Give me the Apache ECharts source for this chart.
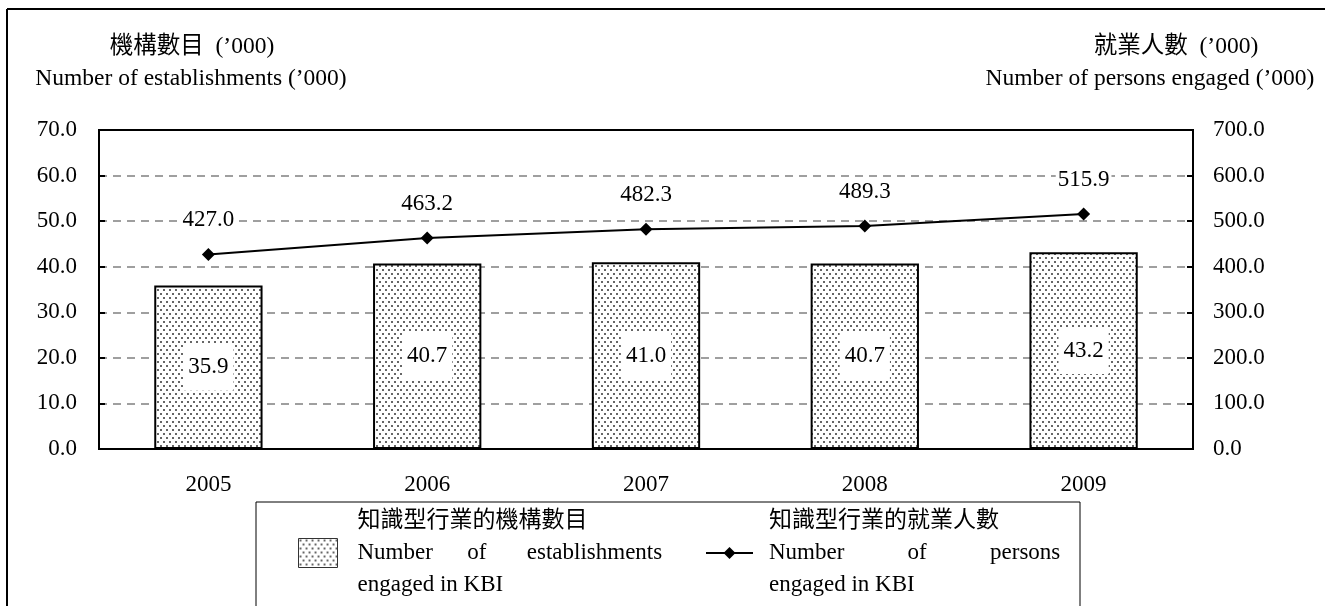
<!DOCTYPE html>
<html>
<head>
<meta charset="utf-8">
<script src="https://cdn.jsdelivr.net/npm/echarts@6/dist/echarts.min.js"></script>
<style>
  html, body { margin: 0; padding: 0; background: #fff; }
  #main { width: 1325px; height: 606px; }
</style>
</head>
<body>
<div id="main"></div>
<script>
var years = ['2005', '2006', '2007', '2008', '2009'];
// 知識型行業的機構數目 ('000)
var establishments = [35.9, 40.7, 41.0, 40.7, 43.2];
// 知識型行業的就業人數 ('000)
var persons = [427.0, 463.2, 482.3, 489.3, 515.9];

var leftTicks = { min: 0, max: 70, interval: 10 };
var rightTicks = { min: 0, max: 700, interval: 100 };

var FONT = '"Liberation Serif", "Times New Roman", "Noto Sans CJK TC", serif';

// dotted fill like the printed chart
function dotPattern() {
    var c = document.createElement('canvas');
    c.width = 6;
    c.height = 8;
    var ctx = c.getContext('2d');
    ctx.fillStyle = '#fff';
    ctx.fillRect(0, 0, 6, 8);
    ctx.fillStyle = '#666';
    ctx.fillRect(1, 1, 2, 2);
    ctx.fillRect(4, 5, 2, 2);
    return c;
}
var dots = { image: dotPattern(), repeat: 'repeat' };

function sp(n) { return new Array(n + 1).join(' '); }

var legendText = {
    fontFamily: FONT,
    fontSize: 23,
    color: '#000',
    lineHeight: 32,
    width: 305
};

var myChart = echarts.init(document.getElementById('main'));

var option = {
    backgroundColor: '#fff',
    animation: false,
    textStyle: { fontFamily: FONT },
    graphic: [
        { type: 'line', shape: { x1: 7, y1: 9, x2: 1325, y2: 9 }, style: { stroke: '#000', lineWidth: 2 } },
        { type: 'line', shape: { x1: 7, y1: 9, x2: 7, y2: 606 }, style: { stroke: '#000', lineWidth: 2 } },
        { type: 'rect', shape: { x: 256, y: 502, width: 824, height: 110 }, style: { fill: 'none', stroke: '#000', lineWidth: 1 } },
        { type: 'text', x: 192, y: 47, style: { text: '機構數目  (\u2019000)', font: '23.5px ' + FONT, fill: '#000', align: 'center', verticalAlign: 'middle' } },
        { type: 'text', x: 191, y: 79, style: { text: 'Number of establishments (\u2019000)', font: '23.5px ' + FONT, fill: '#000', align: 'center', verticalAlign: 'middle' } },
        { type: 'text', x: 1176, y: 47, style: { text: '就業人數  (\u2019000)', font: '23.5px ' + FONT, fill: '#000', align: 'center', verticalAlign: 'middle' } },
        { type: 'text', x: 1150, y: 79, style: { text: 'Number of persons engaged (\u2019000)', font: '23.5px ' + FONT, fill: '#000', align: 'center', verticalAlign: 'middle' } }
    ],
    legend: [
        {
            left: 293,
            top: 500,
            itemWidth: 39,
            itemHeight: 29,
            textStyle: Object.assign({ padding: [0, 0, 0, 15] }, legendText),
            formatter: function () {
                return '知識型行業的機構數目\nNumber' + sp(6) + 'of' + sp(7) + 'establishments\nengaged in KBI';
            },
            data: [{ name: 'est', icon: 'rect', itemStyle: { borderWidth: 1, borderColor: '#333' } }]
        },
        {
            left: 700,
            top: 500,
            itemWidth: 47,
            itemHeight: 15,
            textStyle: Object.assign({ padding: [0, 0, 0, 11] }, legendText),
            formatter: function () {
                return '知識型行業的就業人數\nNumber' + sp(11) + 'of' + sp(11) + 'persons\nengaged in KBI';
            },
            data: ['per']
        }
    ],
    grid: {
        left: 99,
        right: 132,
        top: 130,
        bottom: 157,
        show: true,
        borderColor: '#000',
        borderWidth: 2
    },
    xAxis: {
        type: 'category',
        data: years,
        axisLine: { lineStyle: { color: '#000', width: 2 } },
        axisTick: { show: false },
        axisLabel: { color: '#000', fontSize: 23, fontFamily: FONT, margin: 24 }
    },
    yAxis: [
        {
            type: 'value',
            min: leftTicks.min,
            max: leftTicks.max,
            interval: leftTicks.interval,
            axisLine: { show: true, lineStyle: { color: '#000', width: 2 } },
            axisTick: { show: true, inside: true, length: 6, lineStyle: { color: '#000', width: 2 } },
            axisLabel: {
                color: '#000', fontSize: 23, fontFamily: FONT, margin: 22,
                formatter: function (v) { return v.toFixed(1); }
            },
            splitLine: {
                show: true,
                showMaxLine: false,
                lineStyle: { color: '#808080', width: 1.5, type: [8, 6] }
            }
        },
        {
            type: 'value',
            min: rightTicks.min,
            max: rightTicks.max,
            interval: rightTicks.interval,
            axisLine: { show: true, lineStyle: { color: '#000', width: 2 } },
            axisTick: { show: true, inside: true, length: 6, lineStyle: { color: '#000', width: 2 } },
            axisLabel: {
                color: '#000', fontSize: 23, fontFamily: FONT, margin: 20,
                formatter: function (v) { return v.toFixed(1); }
            },
            splitLine: { show: false }
        }
    ],
    series: [
        {
            name: 'est',
            type: 'bar',
            data: establishments,
            barWidth: '49.5%',
            itemStyle: { color: dots, borderColor: '#000', borderWidth: 2 },
            label: {
                show: true,
                position: 'inside',
                color: '#000',
                fontSize: 23,
                fontFamily: FONT,
                backgroundColor: '#fff',
                padding: [12, 5],
                formatter: function (p) { return p.value.toFixed(1); }
            },
            z: 2
        },
        {
            name: 'per',
            type: 'line',
            yAxisIndex: 1,
            data: persons,
            symbol: 'diamond',
            symbolSize: 13,
            itemStyle: { color: '#000' },
            lineStyle: { color: '#000', width: 2 },
            label: {
                show: true,
                position: 'top',
                distance: 16,
                color: '#000',
                fontSize: 23,
                fontFamily: FONT,
                backgroundColor: '#fff',
                padding: [0, 2],
                formatter: function (p) { return p.value.toFixed(1); }
            },
            z: 3
        }
    ]
};

myChart.setOption(option);
</script>
</body>
</html>
